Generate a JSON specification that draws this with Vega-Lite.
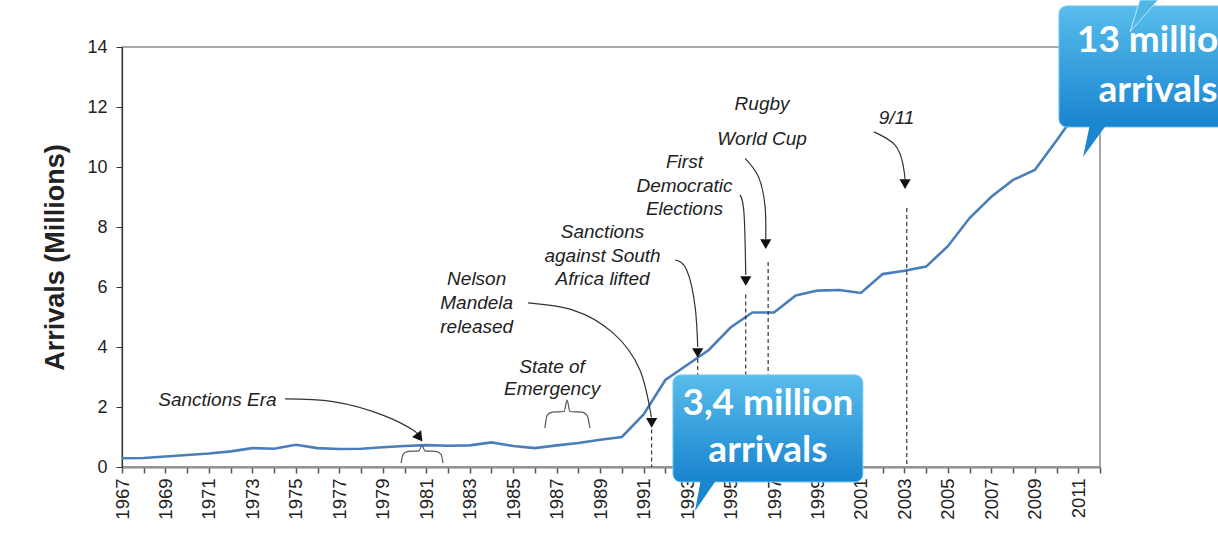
{
  "$schema": "https://vega.github.io/schema/vega-lite/v6.json",
  "width": 978,
  "height": 420,
  "autosize": "none",
  "padding": {"left": 122, "top": 47, "right": 118, "bottom": 86},
  "background": "white",
  "config": {
    "view": {"stroke": "#8c8c8c", "strokeWidth": 1.5},
    "font": "Liberation Sans"
  },
  "datasets": {
    "series": [
      {"year": 1967, "millions": 0.29}, {"year": 1968, "millions": 0.30}, {"year": 1969, "millions": 0.35},
      {"year": 1970, "millions": 0.40}, {"year": 1971, "millions": 0.45}, {"year": 1972, "millions": 0.52},
      {"year": 1973, "millions": 0.63}, {"year": 1974, "millions": 0.61}, {"year": 1975, "millions": 0.74},
      {"year": 1976, "millions": 0.63}, {"year": 1977, "millions": 0.60}, {"year": 1978, "millions": 0.61},
      {"year": 1979, "millions": 0.66}, {"year": 1980, "millions": 0.70}, {"year": 1981, "millions": 0.73},
      {"year": 1982, "millions": 0.71}, {"year": 1983, "millions": 0.72}, {"year": 1984, "millions": 0.82},
      {"year": 1985, "millions": 0.70}, {"year": 1986, "millions": 0.63}, {"year": 1987, "millions": 0.72},
      {"year": 1988, "millions": 0.80}, {"year": 1989, "millions": 0.91}, {"year": 1990, "millions": 1.00},
      {"year": 1991, "millions": 1.75}, {"year": 1992, "millions": 2.90}, {"year": 1993, "millions": 3.40},
      {"year": 1994, "millions": 3.90}, {"year": 1995, "millions": 4.65}, {"year": 1996, "millions": 5.15},
      {"year": 1997, "millions": 5.15}, {"year": 1998, "millions": 5.72}, {"year": 1999, "millions": 5.88},
      {"year": 2000, "millions": 5.90}, {"year": 2001, "millions": 5.80}, {"year": 2002, "millions": 6.43},
      {"year": 2003, "millions": 6.54}, {"year": 2004, "millions": 6.68}, {"year": 2005, "millions": 7.36},
      {"year": 2006, "millions": 8.30}, {"year": 2007, "millions": 9.01}, {"year": 2008, "millions": 9.57},
      {"year": 2009, "millions": 9.90}, {"year": 2010, "millions": 10.88}, {"year": 2011, "millions": 11.90}
    ],
    "rules": [
      {"year": 1991.37, "millions": 1.25, "end": 0},
      {"year": 1993.49, "millions": 3.6, "end": 0},
      {"year": 1995.70, "millions": 5.75, "end": 0},
      {"year": 1996.73, "millions": 6.83, "end": 0},
      {"year": 2003.11, "millions": 8.63, "end": 0}
    ],
    "arrows": [
      {"id": "era", "year": 1974.50, "millions": 2.27},
      {"id": "era", "year": 1976.71, "millions": 2.18},
      {"id": "era", "year": 1979.00, "millions": 1.73},
      {"id": "era", "year": 1980.39, "millions": 1.23},
      {"id": "era", "year": 1980.62, "millions": 1.05},
      {"id": "mandela", "year": 1985.68, "millions": 5.47},
      {"id": "mandela", "year": 1987.75, "millions": 5.23},
      {"id": "mandela", "year": 1989.59, "millions": 4.47},
      {"id": "mandela", "year": 1990.83, "millions": 3.23},
      {"id": "mandela", "year": 1991.36, "millions": 1.65},
      {"id": "lifted", "year": 1992.45, "millions": 6.90},
      {"id": "lifted", "year": 1992.98, "millions": 6.57},
      {"id": "lifted", "year": 1993.37, "millions": 5.34},
      {"id": "lifted", "year": 1993.49, "millions": 4.0},
      {"id": "elections", "year": 1995.44, "millions": 9.07},
      {"id": "elections", "year": 1995.62, "millions": 8.46},
      {"id": "elections", "year": 1995.70, "millions": 6.4},
      {"id": "rugby", "year": 1995.67, "millions": 10.29},
      {"id": "rugby", "year": 1996.28, "millions": 9.68},
      {"id": "rugby", "year": 1996.59, "millions": 8.68},
      {"id": "rugby", "year": 1996.62, "millions": 7.6},
      {"id": "911", "year": 2001.60, "millions": 11.17},
      {"id": "911", "year": 2002.57, "millions": 10.73},
      {"id": "911", "year": 2002.94, "millions": 10.07},
      {"id": "911", "year": 2003.03, "millions": 9.6}
    ],
    "heads": [
      {"year": 1991.37, "millions": 1.47},
      {"year": 1993.49, "millions": 3.8},
      {"year": 1995.70, "millions": 6.2},
      {"year": 1996.62, "millions": 7.43},
      {"year": 2003.03, "millions": 9.43}
    ],
    "eraHead": [
      {"year": 1980.69, "millions": 0.98}
    ],
    "braces": [
      {"id": "era", "year": 1979.84, "millions": 0.13},
      {"id": "era", "year": 1979.93, "millions": 0.42},
      {"id": "era", "year": 1980.16, "millions": 0.52},
      {"id": "era", "year": 1980.66, "millions": 0.54},
      {"id": "era", "year": 1980.80, "millions": 0.72},
      {"id": "era", "year": 1980.94, "millions": 0.54},
      {"id": "era", "year": 1981.44, "millions": 0.52},
      {"id": "era", "year": 1981.68, "millions": 0.42},
      {"id": "era", "year": 1981.77, "millions": 0.13},
      {"id": "emergency", "year": 1986.46, "millions": 1.30},
      {"id": "emergency", "year": 1986.56, "millions": 1.72},
      {"id": "emergency", "year": 1986.79, "millions": 1.83},
      {"id": "emergency", "year": 1987.34, "millions": 1.85},
      {"id": "emergency", "year": 1987.48, "millions": 2.23},
      {"id": "emergency", "year": 1987.61, "millions": 1.85},
      {"id": "emergency", "year": 1988.17, "millions": 1.83},
      {"id": "emergency", "year": 1988.40, "millions": 1.72},
      {"id": "emergency", "year": 1988.53, "millions": 1.30}
    ],
    "notes": [
      {"year": 1971.39, "millions": 2.03, "t": "Sanctions Era"},
      {"year": 1986.79, "millions": 3.15, "t": "State of"},
      {"year": 1986.79, "millions": 2.40, "t": "Emergency"},
      {"year": 1983.32, "millions": 6.07, "t": "Nelson"},
      {"year": 1983.32, "millions": 5.27, "t": "Mandela"},
      {"year": 1983.32, "millions": 4.47, "t": "released"},
      {"year": 1989.11, "millions": 7.63, "t": "Sanctions"},
      {"year": 1989.11, "millions": 6.83, "t": "against South"},
      {"year": 1989.11, "millions": 6.07, "t": "Africa lifted"},
      {"year": 1992.88, "millions": 9.97, "t": "First"},
      {"year": 1992.88, "millions": 9.17, "t": "Democratic"},
      {"year": 1992.88, "millions": 8.40, "t": "Elections"},
      {"year": 1996.45, "millions": 11.90, "t": "Rugby"},
      {"year": 1996.45, "millions": 10.73, "t": "World Cup"},
      {"year": 2002.64, "millions": 11.43, "t": "9/11"}
    ],
    "boxes": [
      {"year": 1992.35, "yearEnd": 2001.09, "millions": 3.07, "end": -0.5},
      {"year": 2010.11, "yearEnd": 2018.44, "millions": 15.37, "end": 11.33}
    ],
    "tail1": [{"year": 1993.64, "millions": -0.5}],
    "tail2": [{"year": 2011.54, "millions": 11.33}],
    "tail3": [{"year": 2013.84, "millions": 15.57}],
    "callouts": [
      {"year": 1996.72, "millions": 1.733, "t": "3,4 million"},
      {"year": 1996.72, "millions": 0.167, "t": "arrivals"},
      {"year": 2014.67, "millions": 13.83, "t": "13 million"},
      {"year": 2014.67, "millions": 12.17, "t": "arrivals"}
    ]
  },
  "encoding": {
    "x": {
      "field": "year",
      "type": "quantitative",
      "scale": {"domain": [1967, 2012], "nice": false, "zero": false},
      "axis": {
        "title": null,
        "values": [1967,1968,1969,1970,1971,1972,1973,1974,1975,1976,1977,1978,1979,1980,1981,1982,1983,1984,1985,1986,1987,1988,1989,1990,1991,1992,1993,1994,1995,1996,1997,1998,1999,2000,2001,2002,2003,2004,2005,2006,2007,2008,2009,2010,2011,2012],
        "format": "d",
        "labelExpr": "datum.value % 2 == 1 ? datum.label : ''",
        "labelAngle": 270,
        "labelFont": "Liberation Sans",
        "labelFontSize": 18.5,
        "labelColor": "#222222",
        "labelPadding": 5,
        "labelOverlap": false,
        "labelFlush": false,
        "labelBound": false,
        "grid": false,
        "domainColor": "#8c8c8c",
        "domainWidth": 2,
        "tickColor": "#555555",
        "tickWidth": 1.5,
        "tickSize": 6
      }
    },
    "y": {
      "field": "millions",
      "type": "quantitative",
      "scale": {"domain": [0, 14], "nice": false, "zero": false},
      "axis": {
        "title": "Arrivals (Millions)",
        "titleFont": "Liberation Sans",
        "titleFontWeight": "bold",
        "titleFontSize": 27,
        "titleColor": "#222222",
        "titlePadding": 17,
        "values": [0, 2, 4, 6, 8, 10, 12, 14],
        "labelFont": "Liberation Sans",
        "labelFontSize": 18,
        "labelColor": "#222222",
        "labelPadding": 9,
        "grid": false,
        "domainColor": "#333333",
        "domainWidth": 1.2,
        "tickColor": "#333333",
        "tickSize": 6
      }
    }
  },
  "layer": [
    {
      "data": {"name": "series"},
      "mark": {"type": "line", "color": "#4a7ebb", "strokeWidth": 2.6}
    },
    {
      "data": {"name": "rules"},
      "mark": {"type": "rule", "color": "#222222", "strokeWidth": 1.1, "strokeDash": [4, 3]},
      "encoding": {"y2": {"field": "end"}}
    },
    {
      "data": {"name": "arrows"},
      "mark": {"type": "line", "color": "#333333", "strokeWidth": 1.2, "interpolate": "natural"},
      "encoding": {"detail": {"field": "id"}}
    },
    {
      "data": {"name": "heads"},
      "mark": {"type": "point", "shape": "triangle-down", "filled": true, "color": "#111111", "opacity": 1, "size": 125}
    },
    {
      "data": {"name": "eraHead"},
      "mark": {"type": "point", "shape": "triangle-down", "filled": true, "color": "#111111", "opacity": 1, "size": 125, "angle": 323}
    },
    {
      "data": {"name": "braces"},
      "mark": {"type": "line", "color": "#555555", "strokeWidth": 1.2, "interpolate": "monotone"},
      "encoding": {"detail": {"field": "id"}}
    },
    {
      "data": {"name": "notes"},
      "mark": {"type": "text", "font": "Liberation Sans", "fontStyle": "italic", "fontSize": 19, "color": "#222222", "align": "center", "baseline": "alphabetic"},
      "encoding": {"text": {"field": "t"}}
    },
    {
      "data": {"name": "boxes"},
      "mark": {
        "type": "rect",
        "cornerRadius": 8,
        "stroke": "#7ccdf0",
        "strokeWidth": 1,
        "color": {
          "gradient": "linear", "x1": 0, "y1": 0, "x2": 0, "y2": 1,
          "stops": [{"offset": 0, "color": "#58bdeb"}, {"offset": 1, "color": "#1884cf"}]
        }
      },
      "encoding": {"x2": {"field": "yearEnd"}, "y2": {"field": "end"}}
    },
    {
      "data": {"name": "tail1"},
      "mark": {"type": "point", "shape": "M0,-0.06L0.32,-0.06L-0.12,0.58Z", "size": 10000, "filled": true, "color": "#1a86cf", "opacity": 1, "strokeWidth": 0}
    },
    {
      "data": {"name": "tail2"},
      "mark": {"type": "point", "shape": "M0,-0.06L0.34,-0.06L-0.14,0.6Z", "size": 10000, "filled": true, "color": "#1a86cf", "opacity": 1, "strokeWidth": 0}
    },
    {
      "data": {"name": "tail3"},
      "mark": {"type": "point", "shape": "M0,0L0.36,0L-0.2,0.64Z", "size": 10000, "filled": true, "fill": "#4fb6e8", "stroke": "#bfe6f7", "strokeWidth": 1, "opacity": 1}
    },
    {
      "data": {"name": "callouts"},
      "mark": {"type": "text", "font": "Lato", "fontWeight": "bold", "fontSize": 37, "color": "#ffffff", "align": "center", "baseline": "alphabetic"},
      "encoding": {"text": {"field": "t"}}
    }
  ]
}
